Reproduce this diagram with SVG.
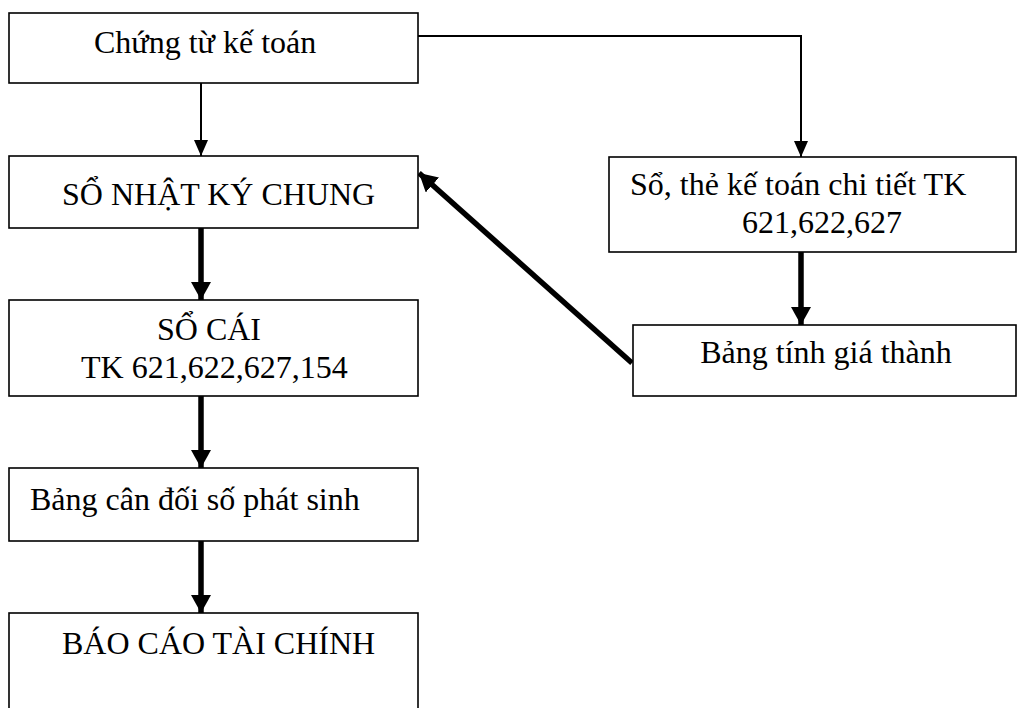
<svg xmlns="http://www.w3.org/2000/svg" width="1017" height="708" viewBox="0 0 1017 708">
  <style>
    .box { fill: #fff; stroke: #000; stroke-width: 1.6; }
    .lbl { font-family: "Liberation Serif", "Times New Roman", serif; font-size: 32px; fill: #000; }
    .thin { fill: none; stroke: #000; stroke-width: 2; }
    .thick { fill: none; stroke: #000; stroke-width: 5.5; }
  </style>
  <defs>
    <marker id="headThin" markerUnits="userSpaceOnUse" viewBox="0 0 16 14" refX="16" refY="7" markerWidth="16" markerHeight="14" orient="auto">
      <path d="M0,0 L16,7 L0,14 Z" fill="#000"/>
    </marker>
    <marker id="headThick" markerUnits="userSpaceOnUse" viewBox="0 0 18 20" refX="18" refY="10" markerWidth="18" markerHeight="20" orient="auto">
      <path d="M0,0 L18,10 L0,20 Z" fill="#000"/>
    </marker>
  </defs>

  <rect width="1017" height="708" fill="#fff"/>

  <g id="connectors">
    <line class="thin" x1="201" y1="83" x2="201" y2="156" marker-end="url(#headThin)"/>
    <polyline class="thin" points="418,36 801,36 801,157" marker-end="url(#headThin)"/>
    <line class="thick" x1="201" y1="228" x2="201" y2="300" marker-end="url(#headThick)"/>
    <line class="thick" x1="201" y1="396" x2="201" y2="468" marker-end="url(#headThick)"/>
    <line class="thick" x1="201" y1="541" x2="201" y2="613" marker-end="url(#headThick)"/>
    <line class="thick" x1="801" y1="252" x2="801" y2="325" marker-end="url(#headThick)"/>
    <line class="thick" x1="632" y1="363" x2="419" y2="173" marker-end="url(#headThick)"/>
  </g>

  <g id="chung-tu">
    <rect class="box" x="9" y="13" width="409" height="70"/>
    <text class="lbl" x="94" y="53">Chứng từ kế toán</text>
  </g>

  <g id="nhat-ky-chung">
    <rect class="box" x="9" y="156" width="409" height="72"/>
    <text class="lbl" x="62" y="205">SỔ NHẬT KÝ CHUNG</text>
  </g>

  <g id="so-cai">
    <rect class="box" x="9" y="300" width="409" height="96"/>
    <text class="lbl" x="209" y="340" text-anchor="middle">SỔ CÁI</text>
    <text class="lbl" x="81" y="378">TK 621,622,627,154</text>
  </g>

  <g id="can-doi">
    <rect class="box" x="9" y="468" width="409" height="73"/>
    <text class="lbl" x="30" y="510">Bảng cân đối số phát sinh</text>
  </g>

  <g id="bao-cao">
    <rect class="box" x="9" y="613" width="409" height="100"/>
    <text class="lbl" x="62" y="654">BÁO CÁO TÀI CHÍNH</text>
  </g>

  <g id="chi-tiet">
    <rect class="box" x="609" y="157" width="407" height="95"/>
    <text class="lbl" x="630" y="195">Sổ, thẻ kế toán chi tiết TK</text>
    <text class="lbl" x="742" y="233">621,622,627</text>
  </g>

  <g id="gia-thanh">
    <rect class="box" x="633" y="325" width="383" height="71"/>
    <text class="lbl" x="826" y="363" text-anchor="middle">Bảng tính giá thành</text>
  </g>
</svg>
